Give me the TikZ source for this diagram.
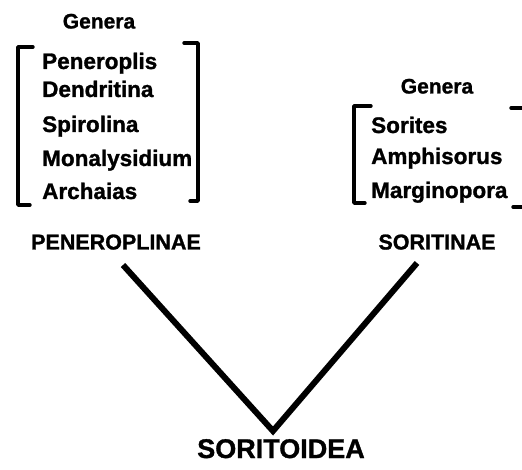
\documentclass[tikz,border=0pt]{standalone}
\usepackage{fontspec}
\setmainfont{Liberation Sans}
\newfontfamily\heavyfont{Liberation Sans Bold}[FakeBold=1.2]
\begin{document}
\begin{tikzpicture}[x=1pt,y=-1pt,
  lbl/.style={inner sep=0pt,anchor=base,font=\heavyfont\fontsize{21}{21}\selectfont},
  item/.style={inner sep=0pt,anchor=base west,font=\heavyfont\fontsize{22.5}{22.5}\selectfont},
  sub/.style={inner sep=0pt,anchor=base,font=\heavyfont\fontsize{21.5}{21.5}\selectfont},
  root/.style={inner sep=0pt,anchor=base,font=\heavyfont\fontsize{27}{27}\selectfont},
  brk/.style={line width=3.4pt,line cap=round,line join=round},
  branch/.style={line width=6pt,line join=miter}]
\useasboundingbox (0,0) rectangle (522,470);
% left genera
\node[lbl] (g1) at (99,28.5) {Genera};
\node[item] (p1) at (42,69) {Peneroplis};
\node[item] (p2) at (42,97) {Dendritina};
\node[item] (p3) at (42,132) {Spirolina};
\node[item] (p4) at (42,166) {Monalysidium};
\node[item] (p5) at (42,199) {Archaias};
\draw[brk] (33,47) -- (18,47) -- (18,205) -- (30,205);
\draw[brk] (184,43) -- (198,43) -- (198,201) -- (190,201);
% right genera
\node[lbl] (g2) at (437,93.5) {Genera};
\node[item] (s1) at (371,133) {Sorites};
\node[item] (s2) at (371,164) {Amphisorus};
\node[item] (s3) at (371,198) {Marginopora};
\draw[brk] (371,106) -- (354,106) -- (354,203) -- (365,203);
\draw[brk] (511,108) -- (524,108);
\draw[brk] (513,207) -- (524,207);
% subfamilies
\node[sub] (pen) at (116,249.5) {PENEROPLINAE};
\node[sub] (sor) at (437,249.5) {SORITINAE};
\node[root] (root) at (281,458) {SORITOIDEA};
\coordinate (v) at (273,431);
\coordinate (a) at (123,265);
\coordinate (b) at (417,263);
\draw[branch] (a) -- (v) -- (b);
\end{tikzpicture}
\end{document}
